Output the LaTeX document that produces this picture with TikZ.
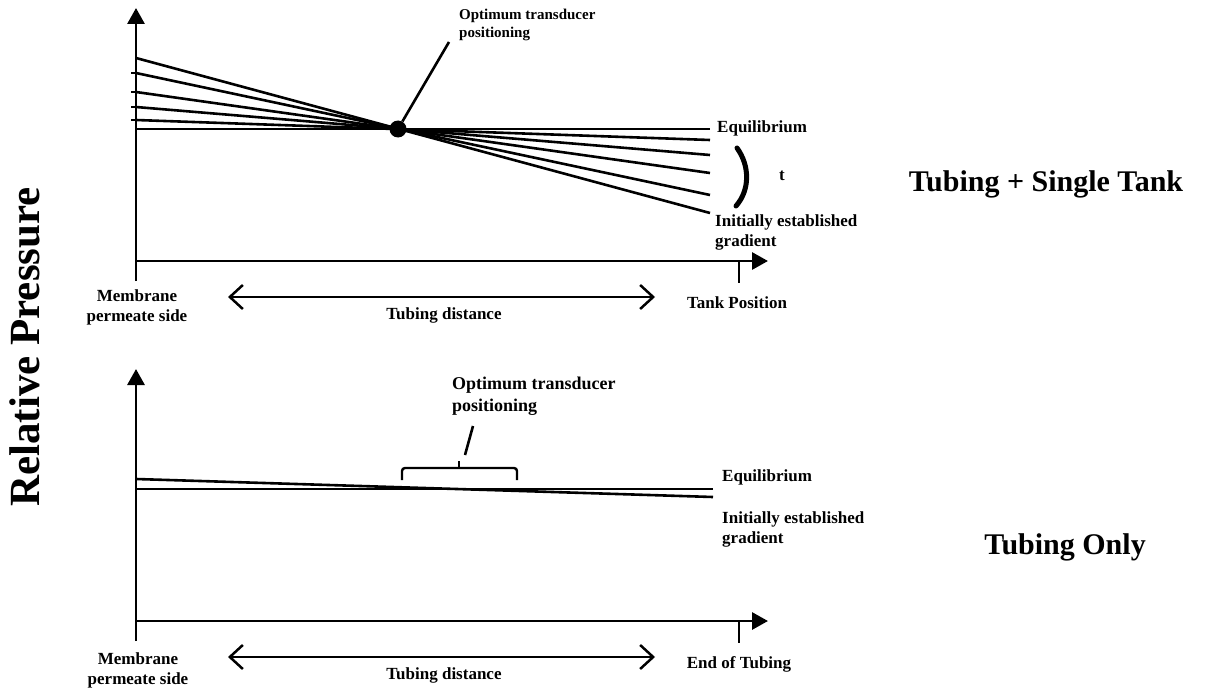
\documentclass[tikz,border=0pt]{standalone}
\usepackage{fontspec}
\setmainfont{Liberation Serif}
\usetikzlibrary{arrows.meta, positioning}

\tikzset{
  axisline/.style={line width=2.9pt, -{Triangle[length=16pt,width=17pt]}},
  gradline/.style={line width=2.6pt},
  distarrow/.style={line width=2.5pt, {Straight Barb[length=13pt,width=24pt]}-{Straight Barb[length=13pt,width=24pt]}},
  smalltext/.style={font=\bfseries\fontsize{17}{20}\selectfont, inner sep=0pt, align=left},
  pointtext/.style={font=\bfseries\fontsize{15}{18}\selectfont, inner sep=0pt, align=left},
  bigtext/.style={font=\bfseries\fontsize{30}{34}\selectfont, inner sep=0pt}
}

\begin{document}
\begin{tikzpicture}[x=1pt, y=-1pt]

            \useasboundingbox (0,0) rectangle (1220,690);

            % y label
            \node[font=\bfseries\fontsize{43}{46}\selectfont, rotate=90, inner sep=0pt] (ylab) at (25,347) {Relative Pressure};

            % ---------- Tubing + Single Tank ----------
            % axes
            \coordinate (ybot1) at (136,281);
            \coordinate (ytop1) at (136,8);
            \coordinate (xlft1) at (136,261);
            \coordinate (xrgt1) at (768,261);
            \draw[axisline] (ybot1) -- (ytop1);
            \draw[axisline] (xlft1) -- (xrgt1);
            \draw[gradline, line width=2.9pt] (739,261) -- (739,283);

            % small ticks on pressure axis
            \foreach \ys in {73,92,107,120}
                \draw[line width=1.6pt] (131,\ys) -- (136,\ys);

            % equilibrium and gradients through the transducer point
            \node[circle, fill, inner sep=0pt, minimum size=17pt] (dot) at (398,129) {};
            \draw[gradline] (136,129) -- (710,129);
            \foreach \ys/\ye in {58/213, 73/195, 92/173, 107/155, 120/140}
                \draw[gradline] (136,\ys) -- (710,\ye);

            % time bracket
            \draw[line width=5pt, line cap=round] (737,148) .. controls (750,166) and (750,190) .. (736,206);
            \node[smalltext] (time) at (782,176) {t};

            % labels
            \node[pointtext, anchor=north west] (opt1) at (459,9) {Optimum transducer\\positioning};
            \coordinate (opt1end) at (449,42);
            \draw[gradline] (dot) -- (opt1end);
            \node[smalltext, anchor=west] (eq1) at (717,128) {Equilibrium};
            \node[smalltext, anchor=north west] (grad1) at (715,215) {Initially established\\gradient};
            \node[smalltext, align=center, anchor=north] (mem1) at (137,290) {Membrane\\permeate side};
            \node[smalltext] (tank) at (737,303) {Tank Position};

            % distance arrow
            \coordinate (dl1) at (228,297);
            \coordinate (dr1) at (655,297);
            \draw[distarrow] (dl1) -- (dr1);
            \node[smalltext] (dist1) at (444,315) {Tubing distance};

            \node[bigtext] (title1) at (1046,184) {Tubing + Single Tank};

            % ---------- Tubing Only ----------
            % axes
            \coordinate (ybot2) at (136,641);
            \coordinate (ytop2) at (136,369);
            \coordinate (xlft2) at (136,621);
            \coordinate (xrgt2) at (768,621);
            \draw[axisline] (ybot2) -- (ytop2);
            \draw[axisline] (xlft2) -- (xrgt2);
            \draw[gradline, line width=2.9pt] (739,621) -- (739,643);

            % equilibrium and gradient
            \draw[gradline] (136,489) -- (713,489);
            \draw[gradline] (136,479) -- (713,497);

            % bracket for transducer range
            \draw[line width=2.4pt, rounded corners=3pt] (402,480) -- (402,468) -- (517,468) -- (517,480);
            \draw[line width=2.4pt] (459,468) -- (459,461);
            \coordinate (br2) at (465,455);
            \coordinate (opt2end) at (473,426);
            \draw[gradline] (br2) -- (opt2end);

            % labels
            \node[smalltext, font=\bfseries\fontsize{18}{22}\selectfont, anchor=north west] (opt2) at (452,377) {Optimum transducer\\positioning};
            \node[smalltext, anchor=west] (eq2) at (722,477) {Equilibrium};
            \node[smalltext, anchor=north west] (grad2) at (722,511) {Initially established\\gradient};
            \node[smalltext, align=center, anchor=north] (mem2) at (138,652) {Membrane\\permeate side};
            \node[smalltext] (tubend) at (739,664) {End of Tubing};

            % distance arrow
            \coordinate (dl2) at (228,657);
            \coordinate (dr2) at (655,657);
            \draw[distarrow] (dl2) -- (dr2);
            \node[smalltext] (dist2) at (444,675) {Tubing distance};

            \node[bigtext] (title2) at (1065,547) {Tubing Only};

\end{tikzpicture}
\end{document}
